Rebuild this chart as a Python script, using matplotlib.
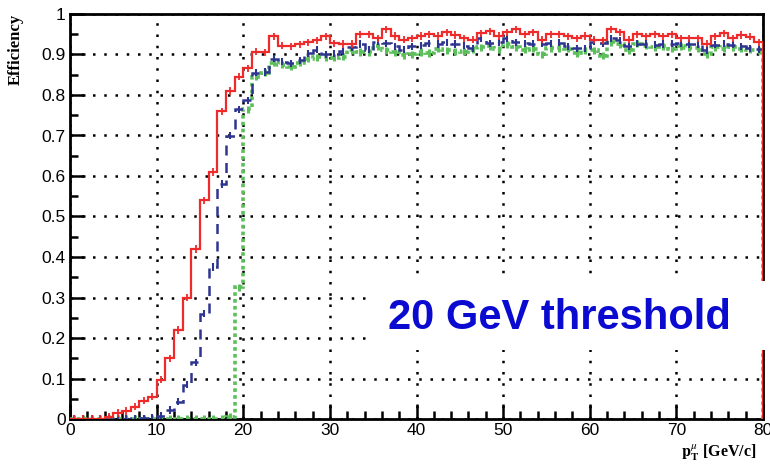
import matplotlib.pyplot as plt
import numpy as np
from matplotlib.patches import Rectangle
from matplotlib.ticker import MultipleLocator, FormatStrFormatter

# bin edges (1 GeV bins from 0 to 80)
edges = np.arange(0, 81)

red_eff = [0, 0, 0, 0, 0.005, 0.015, 0.02, 0.03, 0.045, 0.055,
           0.097, 0.15, 0.22, 0.30, 0.42, 0.54, 0.61, 0.76, 0.81, 0.845,
           0.866, 0.907, 0.905, 0.945, 0.922, 0.92, 0.925, 0.93, 0.935, 0.945,
           0.928, 0.926, 0.926, 0.95, 0.95, 0.94, 0.962, 0.946, 0.937, 0.94,
           0.946, 0.95, 0.946, 0.955, 0.948, 0.94, 0.937, 0.952, 0.957, 0.946,
           0.955, 0.962, 0.95, 0.955, 0.937, 0.95, 0.95, 0.945, 0.94, 0.946,
           0.937, 0.935, 0.962, 0.955, 0.937, 0.95, 0.945, 0.95, 0.945, 0.95,
           0.94, 0.94, 0.94, 0.927, 0.945, 0.952, 0.94, 0.948, 0.944, 0.93]

blue_eff = [0, 0, 0, 0, 0, 0, 0, 0.002, 0.002, 0.003,
            0.008, 0.022, 0.043, 0.085, 0.14, 0.26, 0.375, 0.58, 0.70, 0.765,
            0.787, 0.855, 0.857, 0.89, 0.882, 0.878, 0.886, 0.903, 0.912, 0.9,
            0.902, 0.908, 0.918, 0.926, 0.912, 0.932, 0.928, 0.92, 0.912, 0.92,
            0.923, 0.928, 0.926, 0.93, 0.926, 0.922, 0.915, 0.94, 0.928, 0.93,
            0.94, 0.93, 0.928, 0.927, 0.927, 0.928, 0.929, 0.92, 0.915, 0.915,
            0.932, 0.928, 0.94, 0.935, 0.92, 0.927, 0.926, 0.924, 0.926, 0.927,
            0.928, 0.926, 0.925, 0.911, 0.924, 0.927, 0.924, 0.92, 0.915, 0.913]

green_eff = [0, 0, 0, 0, 0, 0, 0, 0, 0, 0,
             0, 0, 0, 0, 0, 0, 0, 0, 0.006, 0.325,
             0.765, 0.845, 0.855, 0.88, 0.875, 0.87, 0.88, 0.89, 0.893, 0.893,
             0.892, 0.895, 0.91, 0.906, 0.905, 0.92, 0.91, 0.905, 0.898, 0.9,
             0.906, 0.904, 0.914, 0.91, 0.908, 0.907, 0.912, 0.918, 0.92, 0.913,
             0.925, 0.918, 0.912, 0.914, 0.9, 0.915, 0.916, 0.914, 0.904, 0.91,
             0.91, 0.897, 0.93, 0.925, 0.911, 0.927, 0.922, 0.918, 0.92, 0.914,
             0.92, 0.917, 0.915, 0.9, 0.918, 0.914, 0.918, 0.914, 0.912, 0.91]

err = 0.009

red = '#ee2a2a'
blue = '#2e3590'
green = '#5cbf5c'

plt.rcParams['mathtext.fontset'] = 'stix'

fig = plt.figure(figsize=(7.7, 4.65), dpi=100)
ax = fig.add_axes([70 / 770, 46 / 465, 693 / 770, 405 / 465])

centers = edges[:-1] + 0.5

ax.stairs(green_eff, edges, color=green, lw=2.6, linestyle=(0, (1, 0.9)), zorder=3)
ax.errorbar(centers, green_eff, yerr=err, fmt='none', ecolor=green, elinewidth=2.2, zorder=3)
ax.stairs(blue_eff, edges, color=blue, lw=1.8, linestyle=(0, (4, 3)), zorder=4)
ax.errorbar(centers, blue_eff, yerr=err, fmt='none', ecolor=blue, elinewidth=1.5, zorder=4)
ax.stairs(red_eff, edges, color=red, lw=1.6, zorder=5)
ax.errorbar(centers, red_eff, yerr=err, fmt='none', ecolor=red, elinewidth=1.3, zorder=5)

ax.set_xlim(0, 80)
ax.set_ylim(0, 1)
ax.xaxis.set_major_locator(MultipleLocator(10))
ax.xaxis.set_minor_locator(MultipleLocator(2))
ax.yaxis.set_major_locator(MultipleLocator(0.1))
ax.yaxis.set_minor_locator(MultipleLocator(0.05))
ax.yaxis.set_major_formatter(FormatStrFormatter('%g'))

ax.tick_params(which='both', direction='in', width=1.8, labelsize=12.5,
               top=False, right=False)
ax.tick_params(which='major', length=11, pad=3)
ax.tick_params(which='minor', length=6)
for lab in ax.get_xticklabels() + ax.get_yticklabels():
    lab.set_fontfamily('Liberation Sans')

for s in ax.spines.values():
    s.set_linewidth(2)

ax.grid(True, which='major', color='black', lw=1.8, linestyle=(0, (1, 3.5)))
ax.set_axisbelow(True)

ax.set_ylabel('Efficiency', fontfamily='Liberation Serif', fontweight='bold',
              fontsize=12, loc='top')
ax.yaxis.set_label_coords(-0.066, 1.0)

ax.set_xlabel(r'$\mathbf{p}_{\mathbf{T}}^{\mu}$ [GeV/c]', fontfamily='Liberation Serif',
              fontweight='bold', fontsize=11.5, loc='right')
ax.xaxis.set_label_coords(0.99, -0.058)

# label box covering the lower right part of the plot
ax.add_patch(Rectangle((34.4, 0.17), 47, 0.17, facecolor='white', edgecolor='none',
                       clip_on=False, zorder=6))
ax.text(56.5, 0.222, '20 GeV threshold', color='#0a0ad0', fontsize=30,
        fontweight='bold', fontfamily='Liberation Sans', ha='center', va='baseline',
        zorder=7)

plt.savefig('out.png', dpi=100)
